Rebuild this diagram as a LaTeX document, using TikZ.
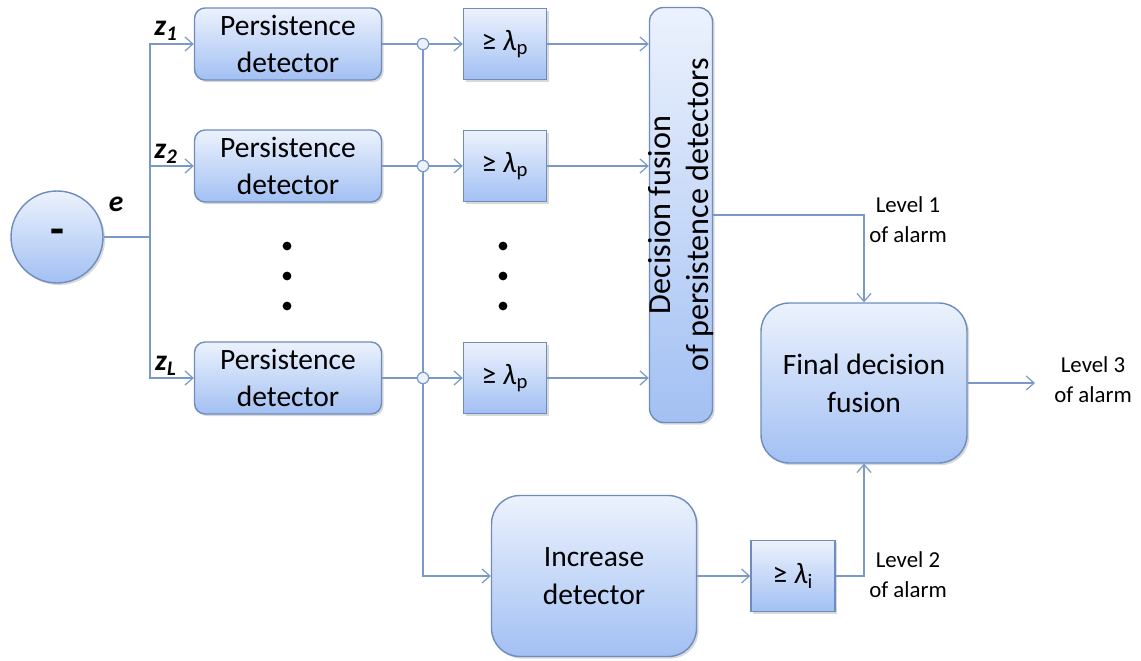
\documentclass[tikz,border=0pt]{standalone}
\usepackage{fontspec}
\setmainfont{Carlito}
\usepackage{xcolor}
\usepackage{tikz}
\usetikzlibrary{arrows.meta,shadows,positioning}

\definecolor{boxtop}{RGB}{236,242,253}
\definecolor{boxbot}{RGB}{162,192,243}
\definecolor{boxline}{RGB}{110,140,190}
\definecolor{wirecol}{RGB}{122,153,201}

\begin{document}
\begin{tikzpicture}[x=0.02cm,y=-0.02cm,font=\fontsize{16.8}{21.5}\selectfont,
  blk/.style={draw=boxline,line width=0.8pt,top color=boxtop,bottom color=boxbot,
    drop shadow={opacity=0.3,shadow xshift=1.2pt,shadow yshift=-1.2pt},
    align=center,inner sep=0pt},
  pers/.style={blk,rounded corners=6pt,minimum width=3.74cm,minimum height=1.44cm},
  thr/.style={blk,minimum width=1.66cm,minimum height=1.42cm},
  big/.style={blk,rounded corners=16pt,minimum width=4.1cm,minimum height=3.22cm},
  link/.style={draw=wirecol,line width=0.7pt},
  arr/.style={link,-{Straight Barb[length=4.5pt,width=8pt]}},
  lvl/.style={font=\fontsize{13}{17}\selectfont,align=center},
  dot/.style={circle,fill=black,inner sep=0pt,minimum size=5pt},
  jn/.style={circle,draw=wirecol,line width=0.7pt,fill=boxtop,inner sep=0pt,minimum size=6.5pt}]
  \useasboundingbox (0,0) rectangle (1141,661);

  \node[blk,circle,minimum size=1.84cm] (sub) at (57,237) {\fontsize{26}{26}\selectfont\textbf{-}};
  \node (e) at (116,204) {\textbf{\textit{e}}};

  % persistence branch
  \node[pers] (pd1) at (288,44) {Persistence\\detector};
  \node[pers] (pd2) at (288,166) {Persistence\\detector};
  \node[pers] (pdL) at (288,378) {Persistence\\detector};
  \node (z1) at (166,31) {\textbf{\textit{z}\textsubscript{\textit{1}}}};
  \node (z2) at (166,154) {\textbf{\textit{z}\textsubscript{\textit{2}}}};
  \node (zL) at (166,366) {\textbf{\textit{z}\textsubscript{\textit{L}}}};

  \node[thr] (th1) at (505,44) {≥ \textit{λ}\textsubscript{p}};
  \node[thr] (th2) at (505,166) {≥ \textit{λ}\textsubscript{p}};
  \node[thr] (thL) at (505,378) {≥ \textit{λ}\textsubscript{p}};

  \foreach \y [count=\i] in {246,276,306} {
    \node[dot] (da\i) at (287,\y) {};
    \node[dot] (db\i) at (503,\y) {};
  }

  \node[blk,rounded corners=8pt,minimum width=1.26cm,minimum height=8.3cm,
    label={[rotate=90,align=center,font=\fontsize{18.3}{21.5}\selectfont]center:Decision fusion\\of persistence detectors}] (df) at (681,215) {};

  % increase branch
  \node[big] (inc) at (594,576) {Increase\\detector};
  \node[thr,minimum width=1.68cm] (thi) at (793,576) {≥ \textit{λ}\textsubscript{i}};
  \node[big,minimum width=4.12cm,minimum height=3.2cm] (fin) at (864,383) {Final decision\\fusion};

  \node[lvl] (lv1) at (908,220) {Level 1\\of alarm};
  \node[lvl] (lv2) at (908,575) {Level 2\\of alarm};
  \node[lvl] (lv3) at (1093,380) {Level 3\\of alarm};

  % wires
  \coordinate (bus) at (150,237);
  \coordinate (j1) at (423,44);
  \coordinate (j2) at (423,166);
  \coordinate (jL) at (423,378);
  \coordinate (out) at (1035,383);
  \draw[link] (sub.east) -- (bus);
  \draw[arr] (bus) |- (pd1.west);
  \draw[arr] (bus) |- (pd2.west);
  \draw[arr] (bus) |- (pdL.west);
  \draw[link] (pd1.east) -- (j1);
  \draw[link] (pd2.east) -- (j2);
  \draw[link] (pdL.east) -- (jL);
  \draw[arr] (j1) -- (th1.west);
  \draw[arr] (j2) -- (th2.west);
  \draw[arr] (jL) -- (thL.west);
  \draw[arr] (j1) |- (inc.west);
  \draw[arr] (th1.east) -- (th1.east -| df.west);
  \draw[arr] (th2.east) -- (th2.east -| df.west);
  \draw[arr] (thL.east) -- (thL.east -| df.west);
  \draw[arr] (df.east) -| (fin.north);
  \draw[arr] (inc.east) -- (thi.west);
  \draw[arr] (thi.east) -| (fin.south);
  \draw[arr] (fin.east) -- (out);
  \node[jn] (c1) at (j1) {};
  \node[jn] (c2) at (j2) {};
  \node[jn] (cL) at (jL) {};
\end{tikzpicture}
\end{document}
